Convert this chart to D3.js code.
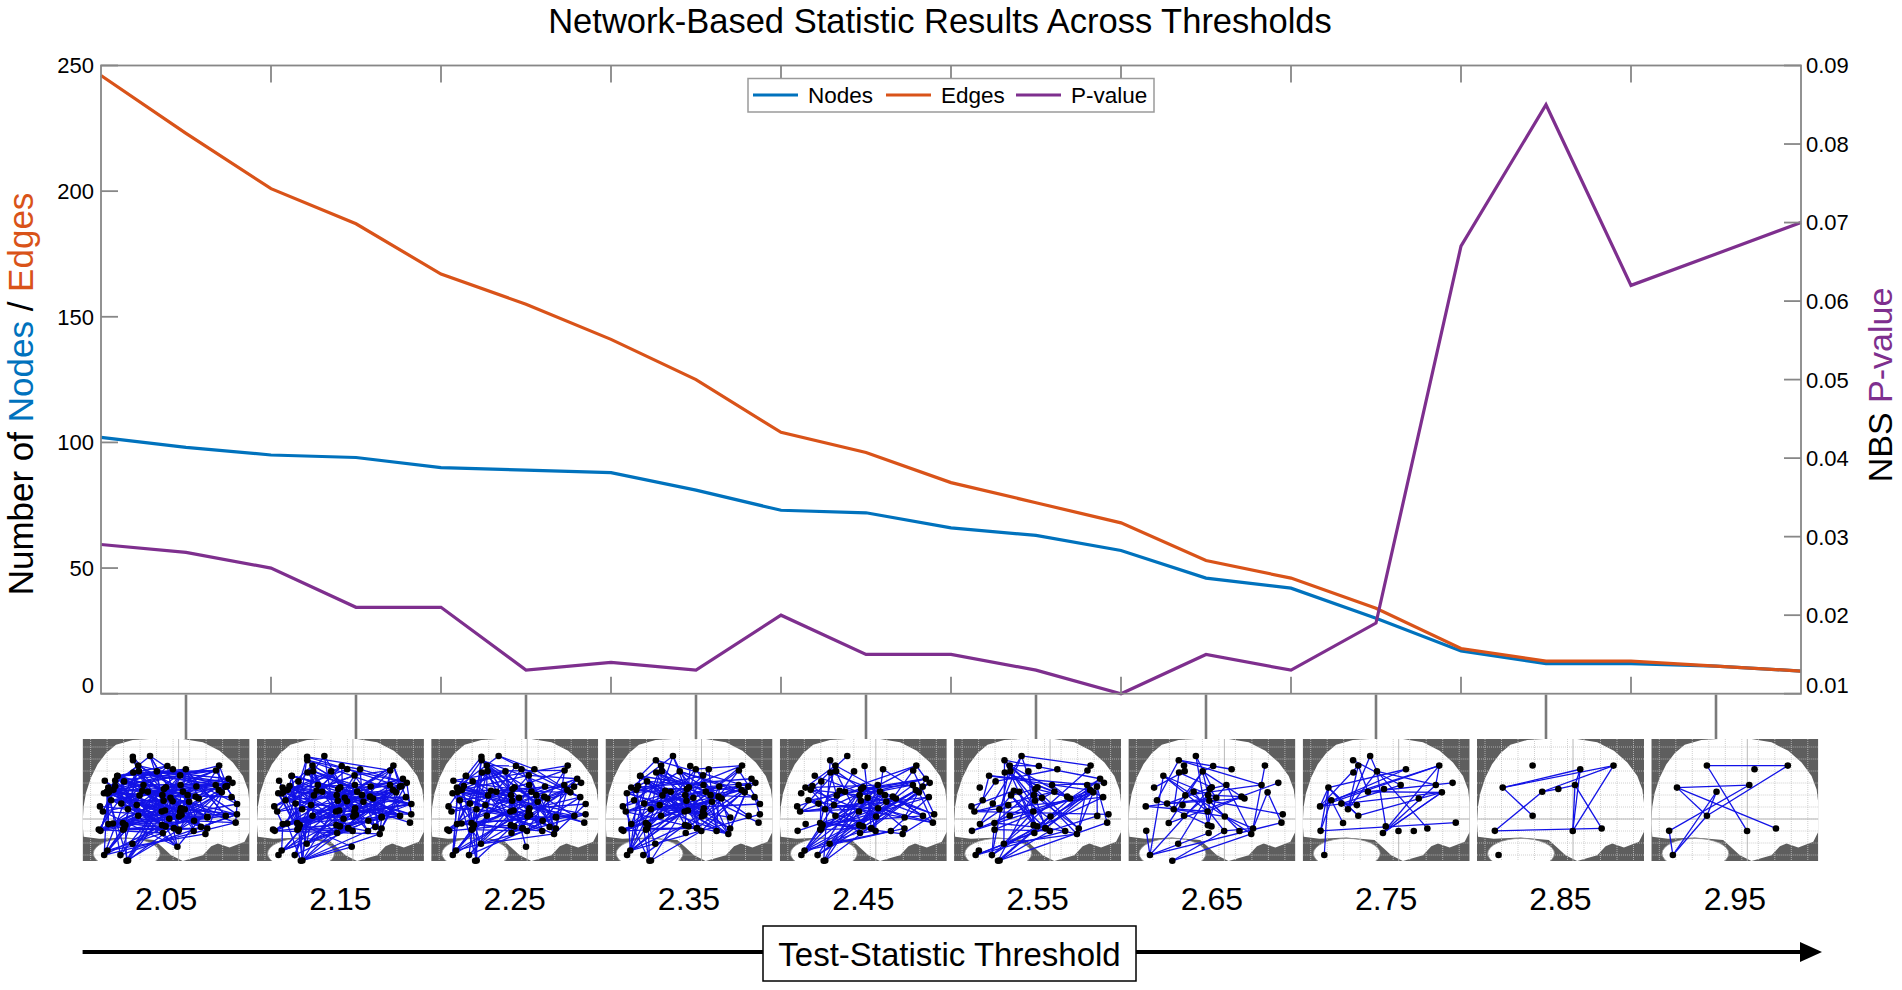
<!DOCTYPE html>
<html>
<head>
<meta charset="utf-8">
<script src="https://cdn.jsdelivr.net/npm/d3@7"></script>
<style>
  body { margin: 0; background: #fff; }
  svg text { font-family: "Liberation Sans", Arial, Helvetica, sans-serif; }
</style>
</head>
<body>
<svg id="chart" width="1902" height="990"></svg>
<script>
// values
var thresholds = [2.00, 2.05, 2.10, 2.15, 2.20, 2.25, 2.30, 2.35, 2.40, 2.45, 2.50,
                  2.55, 2.60, 2.65, 2.70, 2.75, 2.80, 2.85, 2.90, 2.95, 3.00];
var nodeCounts = [102, 98, 95, 94, 90, 89, 88, 81, 73, 72, 66, 63, 57, 46, 42, 30, 17, 12, 12, 11, 9];
var edgeCounts = [246, 223, 201, 187, 167, 155, 141, 125, 104, 96, 84, 76, 68, 53, 46, 34, 18, 13, 13, 11, 9];
var pValues = [0.029, 0.028, 0.026, 0.021, 0.021, 0.013, 0.014, 0.013, 0.020, 0.015, 0.015,
               0.013, 0.010, 0.015, 0.013, 0.019, 0.067, 0.085, 0.062, 0.066, 0.070];
var leftTicks = [0, 50, 100, 150, 200, 250];
var rightTicks = [0.01, 0.02, 0.03, 0.04, 0.05, 0.06, 0.07, 0.08, 0.09];
var xTicks = [2.1, 2.2, 2.3, 2.4, 2.5, 2.6, 2.7, 2.8, 2.9];
var panelThresholds = [2.05, 2.15, 2.25, 2.35, 2.45, 2.55, 2.65, 2.75, 2.85, 2.95];

var colNodes = '#0072BD', colEdges = '#D95319', colP = '#7E2F8E', axisCol = '#878787';

function makeChart() {
    var svg = d3.select('#chart');
    var L = 101, R = 1801, T = 65.5, B = 693.7, tickLen = 17;

    var scX = d3.scaleLinear().domain([2.0, 3.0]).range([L, R]);
    var scL = d3.scaleLinear().domain([0, 250]).range([B, T]);
    var scR = d3.scaleLinear().domain([0.01, 0.09]).range([B, T]);

    // title
    svg.append('text').attr('x', 940).attr('y', 33).attr('text-anchor', 'middle')
        .attr('font-size', 34.5).text('Network-Based Statistic Results Across Thresholds');

    // lines
    var series = [
        {vals: nodeCounts, sc: scL, col: colNodes},
        {vals: edgeCounts, sc: scL, col: colEdges},
        {vals: pValues, sc: scR, col: colP}
    ];
    series.forEach(function (s) {
        var line = d3.line().x((d, i) => scX(thresholds[i])).y(d => s.sc(d));
        svg.append('path').datum(s.vals)
            .attr('d', line).attr('fill', 'none')
            .attr('stroke', s.col).attr('stroke-width', 3.2);
    });

    // box + ticks
    var ax = svg.append('g').attr('stroke', axisCol).attr('stroke-width', 1.8).attr('fill', 'none');
    ax.append('rect').attr('x', L).attr('y', T).attr('width', R - L).attr('height', B - T);
    ax.selectAll('.xt').data(xTicks).enter().append('path')
        .attr('d', d => 'M' + scX(d) + ',' + B + 'v' + (-tickLen) + 'M' + scX(d) + ',' + T + 'v' + tickLen);
    ax.selectAll('.lt').data(leftTicks).enter().append('path')
        .attr('d', d => 'M' + L + ',' + scL(d) + 'h' + tickLen);
    ax.selectAll('.rt').data(rightTicks).enter().append('path')
        .attr('d', d => 'M' + R + ',' + scR(d) + 'h' + (-tickLen));

    svg.selectAll('.ltl').data(leftTicks).enter().append('text')
        .attr('x', 94).attr('y', d => scL(d) + (d === 0 ? -9 : 0)).attr('dy', '0.36em')
        .attr('text-anchor', 'end').attr('font-size', 22).text(d => d);
    svg.selectAll('.rtl').data(rightTicks).enter().append('text')
        .attr('x', 1806).attr('y', (d, i) => scR(d) + (i === 0 ? -9 : 0)).attr('dy', '0.36em')
        .attr('font-size', 22).text(d => d3.format('.2f')(d));

    // axis titles
    var yl = svg.append('text').attr('transform', 'translate(33,394) rotate(-90)')
        .attr('text-anchor', 'middle').attr('font-size', 35);
    yl.append('tspan').text('Number of ');
    yl.append('tspan').attr('fill', colNodes).text('Nodes');
    yl.append('tspan').text(' / ');
    yl.append('tspan').attr('fill', colEdges).text('Edges');
    var yr = svg.append('text').attr('transform', 'translate(1892,385) rotate(-90)')
        .attr('text-anchor', 'middle').attr('font-size', 34);
    yr.append('tspan').text('NBS ');
    yr.append('tspan').attr('fill', colP).text('P-value');

    // legend
    var lg = svg.append('g');
    lg.append('rect').attr('x', 748).attr('y', 78.5).attr('width', 406).attr('height', 33.5)
        .attr('fill', '#fff').attr('stroke', '#9a9a9a').attr('stroke-width', 1.5);
    var items = [
        {name: 'Nodes', col: colNodes, x: 753},
        {name: 'Edges', col: colEdges, x: 886},
        {name: 'P-value', col: colP, x: 1016}
    ];
    items.forEach(function (it) {
        lg.append('line').attr('x1', it.x).attr('x2', it.x + 45).attr('y1', 95).attr('y2', 95)
            .attr('stroke', it.col).attr('stroke-width', 3);
        lg.append('text').attr('x', it.x + 55).attr('y', 103).attr('font-size', 22.5).text(it.name);
    });

    // brain panels
    var pw = 167, ph = 122, py = 739;
    var panelX = d3.scaleLinear().domain([0, 9]).range([82.6, 82.6 + 9 * 174.3]);

    // sagittal outline in 500 x 362 units
    var cerebrum = [[3, 290], [0, 250], [3, 200], [10, 160], [25, 115], [45, 75], [70, 42], [100, 17],
        [150, 3], [200, 0], [300, 0], [360, 10], [410, 35], [450, 70], [480, 110], [495, 150],
        [500, 190], [500, 275], [485, 305], [440, 322], [405, 310], [385, 318], [360, 345],
        [300, 362], [265, 345], [240, 322], [215, 300], [130, 292], [50, 296]];
    var sx = pw / 500, sy = ph / 362;
    var poly = cerebrum.map(p => [p[0] * sx, p[1] * sy]);
    var cbx = 132 * sx, cby = 340 * sy, cbrx = 100 * sx, cbry = 45 * sy;

    // node pool (decorative layout, fixed seed)
    var rnd = d3.randomLcg(0.317);
    var pool = [], cx = pw * 0.5, cy = ph * 0.5;
    while (pool.length < 120) {
        var u = 0.06 + 0.88 * Math.pow(rnd(), 1.3), v = 0.1 + 0.95 * rnd();
        var p = [u * pw, v * ph];
        var q = [cx + (p[0] - cx) / 0.86, cy + (p[1] - cy) / 0.86];
        var inCb = Math.pow((p[0] - cbx) / (cbrx * 0.8), 2) + Math.pow((p[1] - cby) / (cbry * 0.8), 2) < 1;
        if (d3.polygonContains(poly, q) || (inCb && rnd() < 0.3)) pool.push(p);
    }

    // connectors from the axis to each panel
    svg.append('g').selectAll('line').data(panelThresholds).enter().append('line')
        .attr('x1', d => scX(d)).attr('x2', d => scX(d)).attr('y1', B + 1).attr('y2', py)
        .attr('stroke', '#7a7a7a').attr('stroke-width', 2.6);

    panelThresholds.forEach(function (t, k) {
        var idx = thresholds.findIndex(d => Math.abs(d - t) < 1e-9);
        var nN = nodeCounts[idx], nE = edgeCounts[idx];
        var x0 = panelX(k);
        var g = svg.append('g').attr('transform', 'translate(' + x0 + ',' + py + ')');
        var cid = 'clip' + k;
        g.append('clipPath').attr('id', cid).append('rect').attr('width', pw).attr('height', ph);
        var bg = g.append('g').attr('clip-path', 'url(#' + cid + ')');
        bg.append('rect').attr('width', pw).attr('height', ph).attr('fill', '#5e5e5e');
        bg.append('path').attr('d', 'M' + poly.join('L') + 'Z').attr('fill', '#fff');
        bg.append('ellipse').attr('cx', cbx).attr('cy', cby).attr('rx', cbrx).attr('ry', cbry)
            .attr('fill', '#fff').attr('stroke', '#8a8a8a').attr('stroke-width', 0.8);
        var grid = bg.append('g').attr('stroke', '#c4c4c4').attr('stroke-width', 0.8)
            .attr('stroke-dasharray', '1,1');
        d3.range(8, pw, 16.5).forEach(function (gx) {
            grid.append('line').attr('x1', gx).attr('x2', gx).attr('y1', 0).attr('y2', ph);
        });
        d3.range(8, ph, 12).forEach(function (gy) {
            grid.append('line').attr('x1', 0).attr('x2', pw).attr('y1', gy).attr('y2', gy);
        });
        bg.append('line').attr('x1', 96).attr('x2', 96).attr('y1', 0).attr('y2', ph)
            .attr('stroke', '#b0b0b0').attr('stroke-width', 0.9);
        bg.append('line').attr('x1', 0).attr('x2', pw).attr('y1', 80).attr('y2', 80)
            .attr('stroke', '#b0b0b0').attr('stroke-width', 0.9);

        var nodesShown = pool.slice(0, nN);
        var er = d3.randomLcg(0.5 + k * 0.01);
        var links = [];
        for (var j = 0; j < nE; j++) {
            var a = Math.floor(er() * nN), b = Math.floor(er() * nN);
            if (a === b) b = (b + 1) % nN;
            links.push([nodesShown[a], nodesShown[b]]);
        }
        g.append('g').selectAll('line').data(links).enter().append('line')
            .attr('x1', d => d[0][0]).attr('y1', d => d[0][1])
            .attr('x2', d => d[1][0]).attr('y2', d => d[1][1])
            .attr('stroke', '#1212e6').attr('stroke-width', 1.3);
        g.append('g').selectAll('circle').data(nodesShown).enter().append('circle')
            .attr('cx', d => d[0]).attr('cy', d => d[1]).attr('r', 3.3).attr('fill', '#000');

        svg.append('text').attr('x', x0 + pw / 2).attr('y', 910).attr('text-anchor', 'middle')
            .attr('font-size', 32).text(d3.format('.2f')(t));
    });

    // bottom arrow and caption
    svg.append('line').attr('x1', 82.6).attr('x2', 1806).attr('y1', 952).attr('y2', 952)
        .attr('stroke', '#000').attr('stroke-width', 4);
    svg.append('path').attr('d', 'M1822,952L1800,942L1800,962Z').attr('fill', '#000');
    svg.append('rect').attr('x', 763).attr('y', 926).attr('width', 373).attr('height', 55)
        .attr('fill', '#fff').attr('stroke', '#000').attr('stroke-width', 1.5);
    svg.append('text').attr('x', 949.5).attr('y', 966).attr('text-anchor', 'middle')
        .attr('font-size', 33).text('Test-Statistic Threshold');
}
makeChart();
</script>
</body>
</html>
